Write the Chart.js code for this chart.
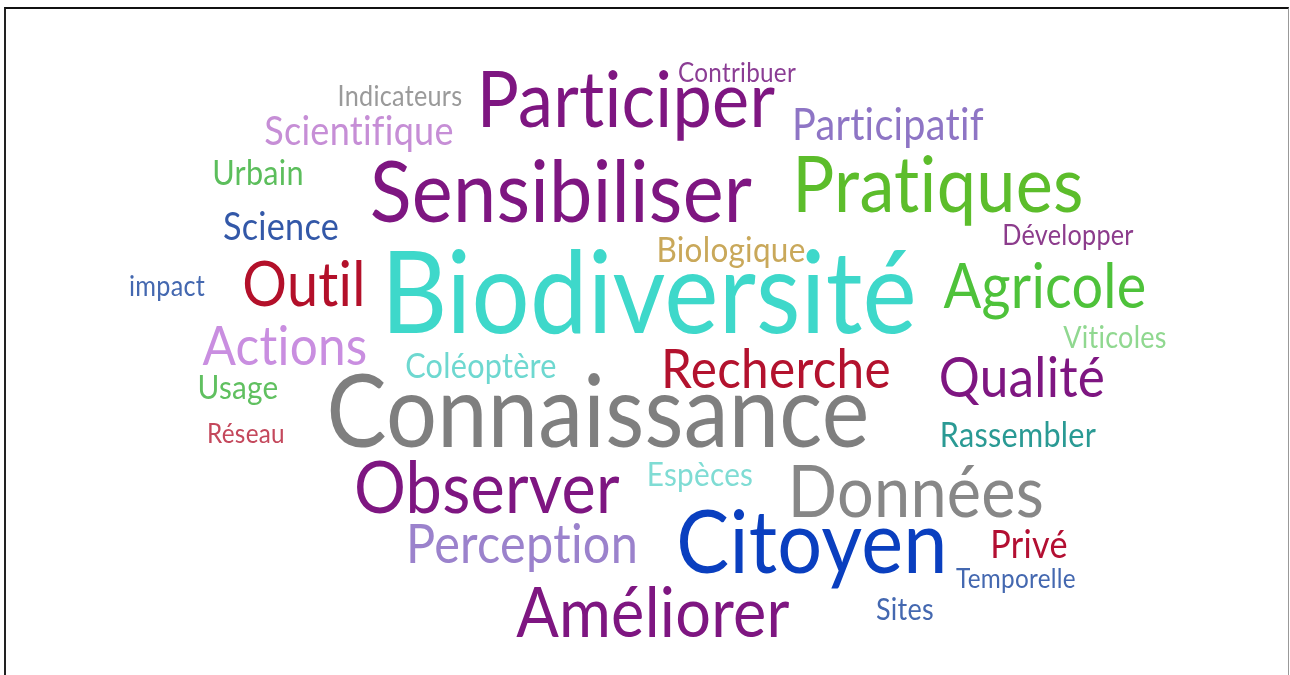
<!DOCTYPE html>
<html>
<head>
<meta charset="utf-8">
<script src="https://cdn.jsdelivr.net/npm/chart.js@4"></script>
<style>
    body { margin: 0; background: #fff; overflow: hidden; }
    #wrap { position: relative; width: 1290px; height: 675px; }
    #frame {
        position: absolute; left: 4px; top: 7px; width: 1282px; height: 700px;
        border-top: 2px solid #111; border-left: 2px solid #222; border-right: 1px solid #999;
        pointer-events: none;
    }
</style>
</head>
<body>
<div id="wrap">
    <canvas id="cloud" width="1290" height="675"></canvas>
    <div id="frame"></div>
</div>
<script>
// --- DONNÉES DU NUAGE DE MOTS ---
const words = ['Indicateurs', 'Participer', 'Contribuer', 'Scientifique', 'Participatif', 'Urbain',
    'Sensibiliser', 'Pratiques', 'Science', 'Développer', 'Biologique', 'impact', 'Outil',
    'Biodiversité', 'Agricole', 'Viticoles', 'Actions', 'Coléoptère', 'Recherche', 'Qualité',
    'Usage', 'Connaissance', 'Réseau', 'Rassembler', 'Espèces', 'Observer', 'Données',
    'Perception', 'Citoyen', 'Privé', 'Temporelle', 'Sites', 'Améliorer'];
// poids (importance) de chaque mot
const weights = [28, 78, 27, 40, 44, 34, 86, 78, 38, 28, 35, 28, 62, 114, 62, 30, 55, 34, 55, 57,
    33, 100, 27, 34, 33, 72, 72, 54, 88, 38, 27, 30, 70];
// emplacement de chaque mot dans le nuage (centre, ligne de base)
const cloudX = [400, 626, 737, 359, 888, 258, 561, 938, 281, 1068, 731, 167, 304, 649, 1045, 1115,
    285, 481, 776, 1022, 238, 598, 246, 1018, 700, 487, 916, 522, 812, 1029, 1016, 905, 653];
const cloudY = [106, 127, 82, 145, 140, 185, 222, 212, 240, 245, 262, 296, 306, 333, 308, 348,
    365, 378, 388, 397, 399, 447, 443, 447, 486, 513, 517, 563, 573, 558, 588, 620, 637];

const colors = ['#9a9a9a', '#7e1681', '#8b3d94', '#c68ed6', '#8e75c5', '#5cbe5c', '#7e1681',
    '#5cbd2b', '#3358a8', '#8c3c8c', '#c9a85a', '#4468b0', '#b3102a', '#3ed8ca', '#4ec23a',
    '#90d890', '#c98ee0', '#6ed8d0', '#b3122e', '#7e1681', '#60c060', '#7f7f7f', '#c4485c',
    '#2a9a94', '#7fdcd4', '#7e1681', '#878787', '#9b82cc', '#0a3fbf', '#b30f32', '#4468b0',
    '#4468b0', '#7e1681'];

const condense = 0.9;
const fontFamily = 'Lato, "Open Sans", sans-serif';

// --- PLUGIN : dessine chaque mot sur son point ---
const wordPlugin = {
    id: 'wordPlugin',
    afterDatasetsDraw(chart) {
        const ctx = chart.ctx;
        const meta = chart.getDatasetMeta(0);
        ctx.save();
        ctx.textAlign = 'center';
        ctx.textBaseline = 'alphabetic';
        // un petit espacement coupe les ligatures (fi, ti) de Lato
        if ('letterSpacing' in ctx) { ctx.letterSpacing = '0.3px'; }
        meta.data.forEach(function(pt, i) {
            ctx.save();
            ctx.translate(pt.x, pt.y);
            ctx.scale(condense, 1);
            ctx.font = weights[i] + 'px ' + fontFamily;
            ctx.fillStyle = colors[i];
            ctx.fillText(words[i], 0, 0);
            ctx.restore();
        });
        ctx.restore();
    }
};

new Chart(document.getElementById('cloud'), {
    type: 'scatter',
    data: {
        datasets: [{
            label: 'Mots',
            data: words.map((w, i) => ({ x: cloudX[i], y: cloudY[i] })),
            pointRadius: 0,
            pointHoverRadius: 0
        }]
    },
    options: {
        responsive: false,
        animation: false,
        events: [],
        layout: { padding: 0 },
        scales: {
            x: { type: 'linear', min: 0, max: 1290, display: false },
            y: { type: 'linear', min: 0, max: 675, reverse: true, display: false }
        },
        plugins: {
            legend: { display: false },
            tooltip: { enabled: false }
        }
    },
    plugins: [wordPlugin]
});
</script>
</body>
</html>
